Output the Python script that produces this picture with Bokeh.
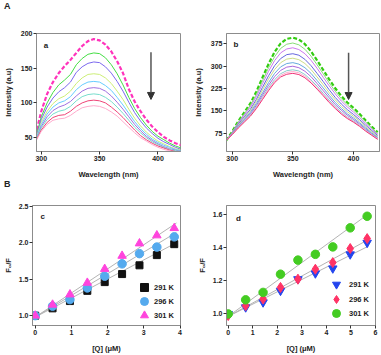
from bokeh.plotting import figure
from bokeh.layouts import column, row
from bokeh.models import (Range1d, FixedTicker, Label, Arrow, NormalHead, Legend,
                          LegendItem, PrintfTickFormatter, Div)
from bokeh.embed import file_html
from bokeh.resources import INLINE

FONT = "Liberation Sans"

# ---------------- data ----------------
wavelength = [295, 300, 305, 310, 315, 320, 325, 330, 335, 340, 345, 350, 355,
              360, 365, 370, 375, 380, 385, 390, 395, 400, 405, 410, 415, 420]

spec_a = [
    [53, 88, 113, 130, 143, 153, 162, 172, 182, 189, 192, 190, 184, 174, 160, 143, 120, 102, 88, 76, 66, 58, 51, 46, 42, 39],
    [48, 80, 100, 115, 126, 133, 141, 155, 164, 170, 172, 171, 165, 155, 142, 126, 108, 92, 79, 68, 59, 52, 47, 42, 38, 35],
    [47, 76, 94, 107, 116, 122, 130, 144, 152, 157, 159, 158, 152, 143, 131, 117, 101, 86, 74, 64, 56, 49, 44, 40, 36, 33],
    [46, 72, 88, 99, 106, 110, 117, 128, 136, 141, 142, 141, 136, 128, 117, 105, 91, 78, 67, 58, 51, 45, 41, 37, 34, 32],
    [46, 69, 84, 94, 100, 103, 109, 119, 126, 130, 131, 130, 125, 118, 108, 97, 85, 73, 63, 55, 48, 43, 39, 36, 33, 31],
    [45, 66, 80, 89, 94, 97, 102, 110, 117, 121, 122, 121, 117, 110, 101, 91, 80, 69, 60, 52, 46, 41, 37, 34, 32, 30],
    [45, 64, 76, 84, 88, 90, 95, 103, 109, 112, 113, 112, 108, 102, 94, 85, 75, 65, 57, 50, 44, 40, 36, 33, 31, 30],
    [44, 61, 72, 79, 82, 83, 88, 95, 100, 103, 104, 103, 100, 94, 87, 79, 70, 61, 53, 47, 42, 38, 35, 32, 30, 29],
    [44, 59, 69, 75, 77, 78, 82, 88, 93, 95, 96, 95, 92, 87, 81, 73, 65, 57, 50, 45, 40, 36, 33, 31, 29, 28],
]
colors_a = ["#ff33bb", "#44dd44", "#7b68ee", "#ccee77", "#66ccff", "#a070e0", "#77ddcc", "#ee4477", "#ffaacc"]

spec_b = [
    [50, 80, 115, 145, 175, 215, 262, 308, 348, 377, 392, 396, 390, 374, 350, 320, 288, 256, 226, 200, 178, 160, 140, 118, 97, 78],
    [50, 78, 112, 140, 169, 206, 251, 295, 332, 360, 374, 378, 372, 357, 334, 305, 275, 244, 216, 191, 170, 153, 134, 113, 93, 74],
    [50, 77, 109, 136, 163, 199, 241, 283, 319, 345, 358, 362, 356, 342, 320, 293, 263, 234, 207, 183, 163, 146, 128, 108, 89, 71],
    [50, 75, 105, 130, 155, 189, 229, 268, 302, 326, 339, 342, 337, 323, 302, 276, 249, 221, 195, 173, 154, 138, 121, 102, 84, 67],
    [50, 74, 102, 126, 150, 182, 220, 257, 289, 312, 324, 327, 322, 309, 289, 264, 238, 211, 187, 165, 147, 132, 116, 97, 80, 64],
    [50, 73, 99, 122, 145, 175, 210, 245, 276, 298, 309, 312, 307, 295, 276, 252, 227, 202, 178, 158, 140, 126, 110, 93, 76, 61],
    [50, 72, 97, 119, 140, 169, 203, 236, 265, 286, 297, 300, 295, 283, 265, 242, 218, 194, 171, 152, 135, 121, 106, 89, 73, 59],
    [50, 71, 95, 115, 136, 164, 196, 228, 255, 275, 285, 288, 284, 272, 254, 233, 209, 186, 164, 145, 129, 116, 102, 86, 71, 57],
    [50, 70, 94, 114, 134, 161, 192, 223, 250, 269, 279, 282, 278, 266, 249, 228, 205, 182, 161, 142, 127, 114, 100, 84, 69, 56],
    [50, 70, 92, 112, 132, 158, 188, 218, 245, 264, 273, 276, 272, 261, 244, 223, 201, 178, 158, 139, 124, 112, 98, 82, 68, 54],
]
colors_b = ["#33cc11", "#88dd77", "#cc77ee", "#6666dd", "#ccdd88", "#66aadd", "#aa66dd", "#88cccc", "#ffaacc", "#ee3377"]

temps = ["291 K", "296 K", "301 K"]

q_c = [0, 0.48, 0.96, 1.44, 1.92, 2.40, 2.88, 3.36, 3.84]
fc_291 = [1.00, 1.10, 1.20, 1.34, 1.46, 1.57, 1.69, 1.83, 1.98]
fc_296 = [1.00, 1.13, 1.22, 1.38, 1.54, 1.71, 1.85, 1.94, 2.08]
fc_301 = [1.00, 1.15, 1.29, 1.45, 1.64, 1.82, 1.99, 2.10, 2.20]
fit_x_c = [0, 3.9]
fit_c = [[0.98, 2.00], [0.98, 2.14], [0.98, 2.27]]

q_d = [0, 0.71, 1.42, 2.13, 2.84, 3.55, 4.26, 4.97, 5.66]
fd_291 = [1.00, 1.04, 1.07, 1.14, 1.21, 1.245, 1.275, 1.36, 1.43]
fd_296 = [0.99, 1.05, 1.09, 1.16, 1.21, 1.27, 1.31, 1.395, 1.455]
fd_301 = [1.00, 1.085, 1.13, 1.24, 1.325, 1.36, 1.405, 1.52, 1.59]
fit_x_d = [0, 5.72]
fit_d = [[0.985, 1.41], [0.985, 1.45], [0.985, 1.605]]

ticks_wl = [300, 350, 400]
ticks_a = [50, 100, 150, 200]
ticks_b = [75, 150, 225, 300, 375]
ticks_qc = [0, 1, 2, 3, 4]
ticks_fc = [1.0, 1.5, 2.0, 2.5]
ticks_qd = [0, 1, 2, 3, 4, 5, 6]
ticks_fd = [1.0, 1.2, 1.4, 1.6]


def make(w, h, xr, yr, bl, br, bt, bb, ystand):
    p = figure(width=w, height=h, x_range=Range1d(*xr), y_range=Range1d(*yr),
               output_backend="svg", toolbar_location=None,
               min_border_left=bl, min_border_right=br, min_border_top=bt, min_border_bottom=bb)
    p.outline_line_color = "#8c8c8c"
    p.outline_line_width = 1
    p.xgrid.visible = False
    p.ygrid.visible = False
    for ax in (p.xaxis[0], p.yaxis[0]):
        ax.axis_line_color = "#8c8c8c"
        ax.major_tick_line_color = "#333333"
        ax.minor_tick_line_color = None
        ax.major_tick_out = 3
        ax.major_tick_in = 0
        ax.major_label_text_font = FONT
        ax.major_label_text_font_style = "bold"
        ax.major_label_text_font_size = "7px"
        ax.major_label_text_color = "#222222"
        ax.major_label_standoff = 1
        ax.axis_label_text_font = FONT
        ax.axis_label_text_font_style = "bold"
        ax.axis_label_text_font_size = "7.5px"
        ax.axis_label_text_color = "#222222"
    p.xaxis[0].axis_label_standoff = 6
    p.yaxis[0].axis_label_standoff = ystand
    return p


def letter(p, x, y, t):
    p.add_layout(Label(x=x, y=y, text=t, text_font=FONT, text_font_style="bold",
                       text_font_size="8px", text_baseline="middle", text_color="#222222"))


def panel_tag(t, left, top):
    return Div(text=t, width=10, height=11,
               styles={"position": "absolute", "left": f"{left}px", "top": f"{top}px",
                       "z-index": "10", "font-family": FONT, "font-weight": "bold",
                       "font-size": "9px", "line-height": "11px", "color": "#222222"})


def legend_rows(p, renderers, x, ys, standoff):
    for r, lab, y in zip(renderers, temps, ys):
        lg = Legend(items=[LegendItem(label=lab, renderers=[r])], location=(x, y),
                    background_fill_alpha=0, border_line_color=None, padding=0, margin=0,
                    glyph_width=20, glyph_height=20, label_height=20, label_standoff=standoff,
                    label_text_font=FONT, label_text_font_style="bold",
                    label_text_font_size="7.5px", label_text_color="#222222")
        p.add_layout(lg)


# ---------------- panel a ----------------
pa = make(190, 181, (295.9, 419.3), (30, 200), 31, 10, 33, 29, 5)
for i, (vals, col) in enumerate(zip(spec_a, colors_a)):
    if i == 0:
        pa.line(wavelength, vals, line_color=col, line_width=2.2, line_dash="4 2")
    else:
        pa.line(wavelength, vals, line_color=col, line_width=1)
pa.xaxis[0].ticker = FixedTicker(ticks=ticks_wl)
pa.yaxis[0].ticker = FixedTicker(ticks=ticks_a)
pa.xaxis[0].axis_label = "Wavelength (nm)"
pa.yaxis[0].axis_label = "Intensity (a.u)"
pa.add_layout(Arrow(end=NormalHead(size=7, fill_color="#333333", line_color="#333333"),
                    x_start=394, y_start=173, x_end=394, y_end=105,
                    line_color="#555555", line_width=1.5))
letter(pa, 302.2, 183, "a")

# ---------------- panel b ----------------
pb = make(191, 181, (295.3, 421.5), (13.3, 410), 35, 2, 33, 29, 5)
for i, (vals, col) in enumerate(zip(spec_b, colors_b)):
    if i == 0:
        pb.line(wavelength, vals, line_color=col, line_width=2.2, line_dash="4 2")
    else:
        pb.line(wavelength, vals, line_color=col, line_width=1)
pb.xaxis[0].ticker = FixedTicker(ticks=ticks_wl)
pb.yaxis[0].ticker = FixedTicker(ticks=ticks_b)
pb.xaxis[0].axis_label = "Wavelength (nm)"
pb.yaxis[0].axis_label = "Intensity (a.u)"
pb.add_layout(Arrow(end=NormalHead(size=7, fill_color="#333333", line_color="#333333"),
                    x_start=396, y_start=345, x_end=396, y_end=188,
                    line_color="#555555", line_width=1.5))
letter(pb, 301, 372, "b")

# ---------------- panel c ----------------
pc = make(190, 174, (-0.074, 4.013), (0.865, 2.51), 30, 10, 24, 28, 3)
for fy in fit_c:
    pc.line(fit_x_c, fy, line_color="#b4b4b4", line_width=1)
rc1 = pc.scatter(q_c, fc_291, marker="square", size=7, fill_color="#111111", line_color="#111111")
rc2 = pc.scatter(q_c, fc_296, marker="circle", size=8.5, fill_color="#55aaee", line_color="#55aaee")
rc3 = pc.scatter(q_c, fc_301, marker="triangle", size=8.5, fill_color="#ff44dd", line_color="#ff44dd")
pc.xaxis[0].ticker = FixedTicker(ticks=ticks_qc)
pc.yaxis[0].ticker = FixedTicker(ticks=ticks_fc)
pc.yaxis[0].formatter = PrintfTickFormatter(format="%.1f")
pc.xaxis[0].axis_label = "[Q] (\u03bcM)"
pc.yaxis[0].axis_label = "F\u2080/F"
letter(pc, 0.144, 2.36, "c")
legend_rows(pc, [rc1, rc2, rc3], 102, [28, 14, 0], -1)

# ---------------- panel d ----------------
pd_ = make(191, 174, (-0.07, 6.0), (0.93, 1.655), 36, 6, 24, 28, 3)
for fy in fit_d:
    pd_.line(fit_x_d, fy, line_color="#b4b4b4", line_width=1)
rd1 = pd_.scatter(q_d, fd_291, marker="inverted_triangle", size=8.5, fill_color="#2244ee", line_color="#2244ee")
rd2 = pd_.scatter(q_d, fd_296, marker="diamond", size=10, fill_color="#ff3366", line_color="#ff3366")
rd3 = pd_.scatter(q_d, fd_301, marker="circle", size=8.5, fill_color="#44cc22", line_color="#44cc22")
pd_.xaxis[0].ticker = FixedTicker(ticks=ticks_qd)
pd_.yaxis[0].ticker = FixedTicker(ticks=ticks_fd)
pd_.yaxis[0].formatter = PrintfTickFormatter(format="%.1f")
pd_.xaxis[0].axis_label = "[Q] (\u03bcM)"
pd_.yaxis[0].axis_label = "F\u2080/F"
letter(pd_, 0.316, 1.576, "d")
legend_rows(pd_, [rd1, rd2, rd3], 100, [31, 16, 2], 3)

layout = column(row(pa, pb), row(pc, pd_), panel_tag("A", -1, -4), panel_tag("B", -1, 174))
open("out.html", "w").write(file_html(layout, INLINE))
